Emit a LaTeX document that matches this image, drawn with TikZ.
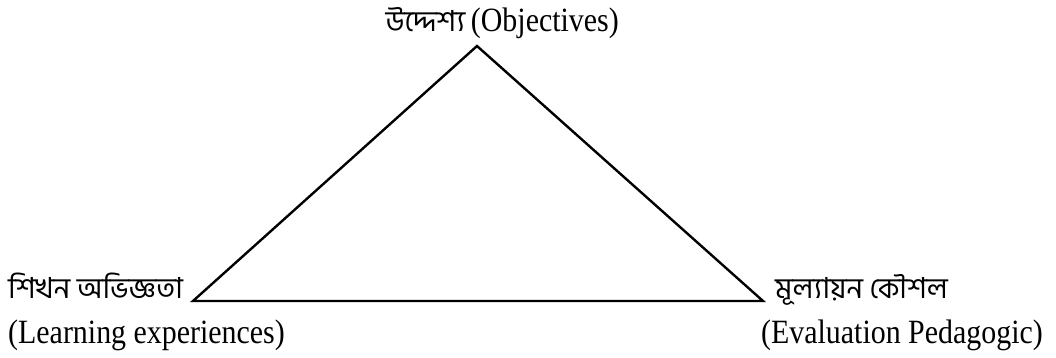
\documentclass[tikz,border=0pt]{standalone}
\usepackage{fontspec}
\setmainfont[FakeStretch=0.88]{Liberation Serif}
\newfontfamily\bn[Script=Bengali]{Hind Siliguri}
\begin{document}
\begin{tikzpicture}[x=1pt,y=-1pt,
  lbl/.style={inner sep=0pt,font=\fontsize{34}{38}\selectfont},
  bnf/.style={inner sep=0pt,font=\fontsize{29}{32}\selectfont\bn},
  edge/.style={line width=2.4pt,line join=miter}]
\useasboundingbox (0,0) rectangle (1056,357);
\coordinate (A) at (477,46);
\coordinate (L) at (193,301);
\coordinate (R) at (763,301);
\draw[edge] (A) -- (L) -- (R) -- cycle;
\node[lbl,anchor=base east] (top) at (619,31) {{\fontsize{29}{32}\selectfont\bn উদ্দেশ্য}\,(Objectives)};
\node[bnf,anchor=base west] (lb) at (8,298) {শিখন অভিজ্ঞতা};
\node[lbl,anchor=base west] (le) at (8,343) {(Learning experiences)};
\node[bnf,anchor=base west] (rb) at (775,298) {মূল্যায়ন কৌশল};
\node[lbl,anchor=base east] (re) at (1043,343) {(Evaluation Pedagogic)};
\end{tikzpicture}
\end{document}
